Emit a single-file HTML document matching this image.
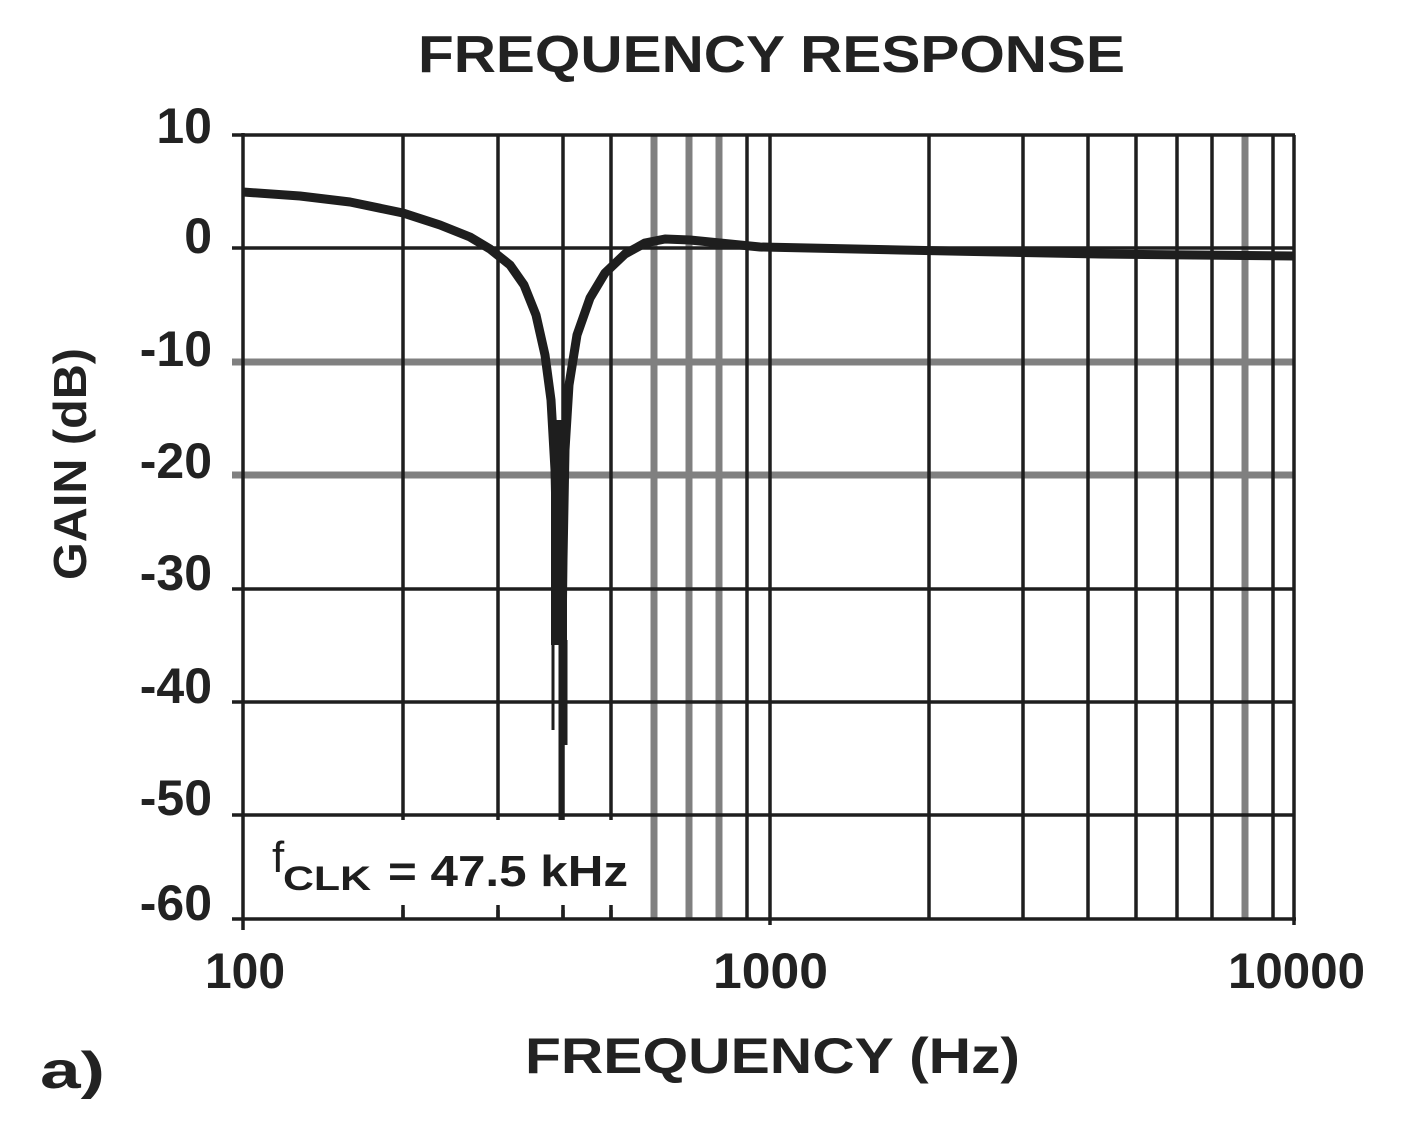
<!DOCTYPE html>
<html><head><meta charset="utf-8"><style>html,body{margin:0;padding:0;background:#fff}svg{display:block}</style></head>
<body>
<svg width="1410" height="1131" viewBox="0 0 1410 1131" xmlns="http://www.w3.org/2000/svg" font-family="Liberation Sans, Arial, sans-serif" font-weight="bold" fill="#222">
<g stroke="#808080" stroke-width="7">
<line x1="232" y1="362" x2="1295" y2="362"/>
<line x1="232" y1="475" x2="1295" y2="475"/>
<line x1="654" y1="135" x2="654" y2="919"/>
<line x1="689" y1="135" x2="689" y2="919"/>
<line x1="719" y1="135" x2="719" y2="919"/>
<line x1="1245" y1="135" x2="1245" y2="919"/>
</g>
<g stroke="#1e1e1e" stroke-width="3.5">
<line x1="232" y1="135" x2="1295" y2="135"/>
<line x1="232" y1="248" x2="1295" y2="248"/>
<line x1="232" y1="589" x2="1295" y2="589"/>
<line x1="232" y1="702" x2="1295" y2="702"/>
<line x1="232" y1="815" x2="1295" y2="815"/>
<line x1="403" y1="135" x2="403" y2="919"/>
<line x1="498" y1="135" x2="498" y2="919"/>
<line x1="563" y1="135" x2="563" y2="919"/>
<line x1="611" y1="135" x2="611" y2="919"/>
<line x1="747" y1="135" x2="747" y2="919"/>
<line x1="770" y1="135" x2="770" y2="925"/>
<line x1="929" y1="135" x2="929" y2="919"/>
<line x1="1023" y1="135" x2="1023" y2="919"/>
<line x1="1088" y1="135" x2="1088" y2="919"/>
<line x1="1136" y1="135" x2="1136" y2="919"/>
<line x1="1177" y1="135" x2="1177" y2="919"/>
<line x1="1212" y1="135" x2="1212" y2="919"/>
<line x1="1273" y1="135" x2="1273" y2="919"/>
<line x1="1294" y1="135" x2="1294" y2="925"/>
</g>
<rect x="247" y="820" width="398" height="90" fill="#fff"/>
<g stroke="#1e1e1e" stroke-width="3.5">
<line x1="403" y1="905" x2="403" y2="919"/>
<line x1="498" y1="905" x2="498" y2="919"/>
<line x1="563" y1="905" x2="563" y2="919"/>
<line x1="611" y1="905" x2="611" y2="919"/>
<line x1="232" y1="919" x2="1296" y2="919"/>
<line x1="243" y1="133" x2="243" y2="930"/>
</g>
<path d="M243,192 L300,196 L350,202 L403,213 L440,225 L470,237 L490,249 L510,265 L524,285 L536,315 L545,355 L551,400 L555,470 L557,560 L558,640 L562,640 L563,560 L565,450 L569,385 L577,335 L590,298 L605,273 L625,254 L645,243 L665,239 L690,240 L720,243 L760,247 L900,250 L1100,254 L1295,256" fill="none" stroke="#1e1e1e" stroke-width="9" stroke-linejoin="round"/>
<rect x="551" y="420" width="16" height="225" fill="#1e1e1e"/>
<g stroke="#1e1e1e" stroke-width="3">
<line x1="553" y1="640" x2="553" y2="730"/>
<line x1="566" y1="640" x2="566" y2="745"/>
<line x1="560" y1="640" x2="560" y2="820"/>
</g>
<text x="418" y="72" font-size="52" textLength="707" lengthAdjust="spacingAndGlyphs">FREQUENCY RESPONSE</text>
<g font-size="50" text-anchor="end">
<text x="212" y="143">10</text>
<text x="212" y="253">0</text>
<text x="212" y="366">-10</text>
<text x="212" y="478">-20</text>
<text x="212" y="590">-30</text>
<text x="212" y="703">-40</text>
<text x="212" y="815">-50</text>
<text x="212" y="920">-60</text>
</g>
<g font-size="50">
<text x="205" y="988" textLength="80" lengthAdjust="spacingAndGlyphs">100</text>
<text x="713" y="988" textLength="115" lengthAdjust="spacingAndGlyphs">1000</text>
<text x="1228" y="988" textLength="137" lengthAdjust="spacingAndGlyphs">10000</text>
</g>
<text x="525" y="1073" font-size="50" textLength="495" lengthAdjust="spacingAndGlyphs">FREQUENCY (Hz)</text>
<text x="40" y="1088" font-size="52" textLength="65" lengthAdjust="spacingAndGlyphs">a)</text>
<text transform="translate(86,580) rotate(-90)" font-size="46" textLength="232" lengthAdjust="spacingAndGlyphs">GAIN (dB)</text>
<g fill="#1e1e1e">
<text x="272" y="872" font-size="44" font-weight="normal">f</text>
<text x="283" y="890" font-size="34" textLength="88" lengthAdjust="spacingAndGlyphs">CLK</text>
<text x="388" y="886" font-size="44" textLength="240" lengthAdjust="spacingAndGlyphs">= 47.5 kHz</text>
</g>
</svg>
</body></html>
